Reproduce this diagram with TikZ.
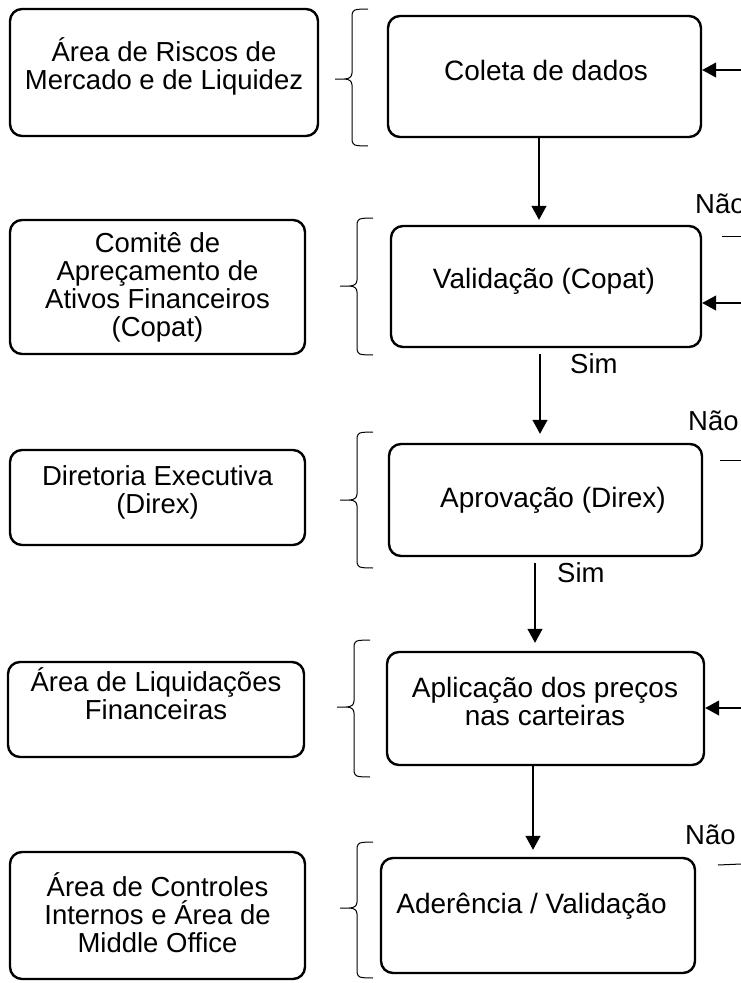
\documentclass[tikz,border=0pt]{standalone}
\usepackage{fontspec}
\setmainfont{Liberation Sans}
\usetikzlibrary{arrows.meta}
\newcommand{\mybrace}[4]{% #1 x of stem, #2 top, #3 tip, #4 bottom
  \draw[bracestyle] (#1+16,#2) -- (#1+6,#2+0.3) .. controls (#1+1,#2+0.8) and (#1,#2+3) .. (#1,#2+8)
    -- (#1,#3-6) .. controls (#1,#3-2) and (#1-3,#3) .. (#1-8,#3) -- (#1-17,#3)
    (#1-8,#3) .. controls (#1-3,#3) and (#1,#3+2) .. (#1,#3+6)
    -- (#1,#4-8) .. controls (#1,#4-3) and (#1+1,#4-0.8) .. (#1+6,#4-0.3) -- (#1+16,#4);}
\begin{document}
\begin{tikzpicture}[x=1pt,y=-1pt,
  box/.style={draw=black, line width=2.4pt, rounded corners=12pt, inner sep=0pt},
  txt/.style={font=\fontsize{27.5}{27.7}\selectfont, align=center, anchor=base, inner sep=0pt},
  rtxt/.style={font=\fontsize{28}{27.2}\selectfont, align=center, anchor=base, inner sep=0pt},
  lbl/.style={font=\fontsize{27.5}{27.5}\selectfont, anchor=base west, inner sep=0pt},
  arr/.style={line width=1.1pt, -{Triangle[width=15pt,length=14pt]}},
  bracestyle/.style={line width=1pt},
  stub/.style={line width=1pt}]
\useasboundingbox (0,0) rectangle (741,983);

% left boxes
\node[box, minimum width=308pt, minimum height=127pt] (l1) at (164,72.5) {};
\node[box, minimum width=295pt, minimum height=134pt] (l2) at (157.5,287) {};
\node[box, minimum width=295pt, minimum height=95pt]  (l3) at (157.5,497.5) {};
\node[box, minimum width=296pt, minimum height=95pt]  (l4) at (156,709.5) {};
\node[box, minimum width=295pt, minimum height=127pt] (l5) at (157.5,915.5) {};

% anchor=base of a multi-line node is the baseline of its last line
\node[txt] (tl1) at (164,89) {Área de Riscos de\\Mercado e de Liquidez};
\node[txt] (tl2) at (157.5,336) {Comitê de\\Apreçamento de\\Ativos Financeiros\\(Copat)};
\node[txt] (tl3) at (157.5,513) {Diretoria Executiva\\(Direx)};
\node[txt] (tl4) at (156,719) {Área de Liquidações\\Financeiras};
\node[txt] (tl5) at (157.5,952) {Área de Controles\\Internos e Área de\\Middle Office};

% right boxes
\node[box, minimum width=313pt, minimum height=121pt] (r1) at (544.5,76.5) {};
\node[box, minimum width=310pt, minimum height=121pt] (r2) at (546,286.5) {};
\node[box, minimum width=313pt, minimum height=112pt] (r3) at (545.5,500) {};
\node[box, minimum width=317pt, minimum height=113pt] (r4) at (545.5,708.5) {};
\node[box, minimum width=314pt, minimum height=115pt] (r5) at (538,915.5) {};

\node[rtxt] (tr1) at (546,80) {Coleta de dados};
\node[rtxt] (tr2) at (544,288) {Validação (Copat)};
\node[rtxt] (tr3) at (553,507) {Aprovação (Direx)};
\node[rtxt] (tr4) at (545,725) {Aplicação dos preços\\nas carteiras};
\node[rtxt] (tr5) at (531.5,913) {Aderência / Validação};

% braces
\mybrace{352}{9}{79}{146}
\mybrace{357}{218}{286}{355}
\mybrace{357}{432}{500}{568}
\mybrace{354}{640}{707}{777}
\mybrace{357}{842}{908}{978}

% vertical arrows
\coordinate (x1) at (539,0);
\coordinate (x2) at (540,0);
\coordinate (x3) at (535,0);
\coordinate (x4) at (533,0);
\draw[arr, shorten >=5pt] (r1.south -| x1) -- (r2.north -| x1);
\draw[arr, shorten <=6pt, shorten >=9pt] (r2.south -| x2) -- (r3.north -| x2);
\draw[arr, shorten <=6pt, shorten >=8pt] (r3.south -| x3) -- (r4.north -| x3);
\draw[arr, shorten >=7pt] (r4.south -| x4) -- (r5.north -| x4);

\node[lbl] (s1) at (570,373) {Sim};
\node[lbl] (s2) at (557,582) {Sim};

% right side
\coordinate (e1) at (741,70);
\coordinate (e2) at (741,303);
\coordinate (e3) at (741,708);
\draw[arr] (e1) -- (e1 -| r1.east);
\draw[arr] (e2) -- (e2 -| r2.east);
\draw[arr] (e3) -- (e3 -| r4.east);

\node[lbl] (n1) at (695,213) {Não};
\node[lbl] (n2) at (688,430) {Não};
\node[lbl] (n3) at (685,844) {Não};

\coordinate (k1a) at (722,236); \coordinate (k1b) at (741,236);
\coordinate (k2a) at (720,460); \coordinate (k2b) at (741,460);
\coordinate (k3a) at (718,865); \coordinate (k3b) at (741,864);
\draw[stub] (k1a) -- (k1b);
\draw[stub] (k2a) -- (k2b);
\draw[stub] (k3a) -- (k3b);
\end{tikzpicture}
\end{document}
